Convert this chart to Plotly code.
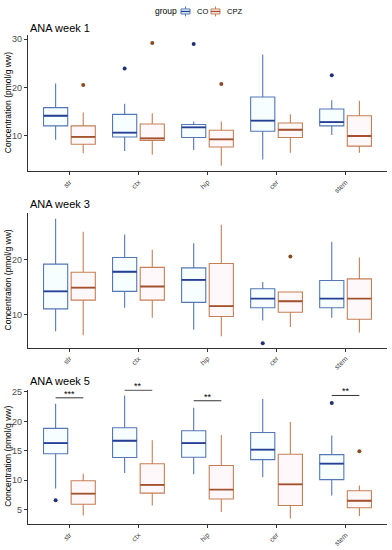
import plotly.graph_objects as go

categories = ["str", "ctx", "hip", "cer", "stem"]
groups = ["CO", "CPZ"]
panel_titles = ["ANA week 1", "ANA week 3", "ANA week 5"]

# week 1
w1_CO_low = [9.1, 6.8, 7.0, 5.0, 10.1]
w1_CO_q1 = [12.0, 9.7, 9.6, 10.9, 12.0]
w1_CO_med = [14.1, 10.6, 11.7, 13.1, 12.8]
w1_CO_q3 = [15.8, 14.4, 12.3, 18.0, 15.5]
w1_CO_high = [20.8, 16.6, 12.9, 26.8, 17.3]
w1_CO_out_cat = ["ctx", "hip", "stem"]
w1_CO_out_val = [23.9, 29.0, 22.5]
w1_CPZ_low = [6.3, 6.0, 3.7, 6.4, 6.4]
w1_CPZ_q1 = [8.2, 9.0, 7.6, 9.6, 7.8]
w1_CPZ_med = [9.7, 9.4, 9.2, 11.2, 9.9]
w1_CPZ_q3 = [12.0, 12.4, 11.1, 12.6, 14.1]
w1_CPZ_high = [14.8, 14.6, 12.9, 14.4, 17.2]
w1_CPZ_out_cat = ["str", "ctx", "hip"]
w1_CPZ_out_val = [20.5, 29.2, 20.7]

# week 3
w3_CO_low = [6.9, 11.2, 7.2, 8.9, 9.4]
w3_CO_q1 = [11.0, 14.2, 12.2, 11.2, 11.2]
w3_CO_med = [14.2, 17.8, 16.3, 12.9, 12.9]
w3_CO_q3 = [19.2, 20.4, 18.5, 14.7, 16.2]
w3_CO_high = [27.5, 24.6, 23.0, 15.9, 23.3]
w3_CO_out_cat = ["cer"]
w3_CO_out_val = [4.7]
w3_CPZ_low = [6.2, 9.4, 6.0, 7.7, 6.7]
w3_CPZ_q1 = [12.6, 12.6, 9.6, 10.4, 9.1]
w3_CPZ_med = [14.9, 15.1, 11.5, 12.4, 12.9]
w3_CPZ_q3 = [17.7, 18.6, 19.3, 14.1, 16.5]
w3_CPZ_high = [25.1, 21.8, 26.4, 14.1, 20.4]
w3_CPZ_out_cat = ["cer"]
w3_CPZ_out_val = [20.6]

# week 5
w5_CO_low = [8.6, 11.2, 11.0, 10.5, 7.4]
w5_CO_q1 = [14.5, 13.85, 13.9, 13.5, 10.1]
w5_CO_med = [16.3, 16.7, 16.3, 15.2, 12.8]
w5_CO_q3 = [18.8, 18.9, 18.4, 18.1, 14.35]
w5_CO_high = [23.0, 24.4, 22.3, 23.8, 17.6]
w5_CO_out_cat = ["str", "stem"]
w5_CO_out_val = [6.6, 23.1]
w5_CPZ_low = [4.0, 5.7, 4.6, 3.5, 3.9]
w5_CPZ_q1 = [5.9, 7.8, 6.8, 5.7, 5.3]
w5_CPZ_med = [7.7, 9.2, 8.4, 9.3, 6.5]
w5_CPZ_q3 = [9.9, 12.8, 12.5, 14.4, 8.2]
w5_CPZ_high = [11.1, 16.8, 17.7, 19.9, 9.1]
w5_CPZ_out_cat = ["stem"]
w5_CPZ_out_val = [14.9]

# significance (week 5)
sig_cat = ["str", "ctx", "hip", "stem"]
sig_y = [24.0, 25.3, 23.5, 24.4]
sig_text = ["***", "**", "**", "**"]

y_ranges = [[2.55, 30.9], [3.9, 28.5], [2.53, 25.4]]
y_ticks = [[10, 20, 30], [10, 20], [5, 10, 15, 20, 25]]

panels = [
    dict(CO=(w1_CO_low, w1_CO_q1, w1_CO_med, w1_CO_q3, w1_CO_high, w1_CO_out_cat, w1_CO_out_val),
         CPZ=(w1_CPZ_low, w1_CPZ_q1, w1_CPZ_med, w1_CPZ_q3, w1_CPZ_high, w1_CPZ_out_cat, w1_CPZ_out_val)),
    dict(CO=(w3_CO_low, w3_CO_q1, w3_CO_med, w3_CO_q3, w3_CO_high, w3_CO_out_cat, w3_CO_out_val),
         CPZ=(w3_CPZ_low, w3_CPZ_q1, w3_CPZ_med, w3_CPZ_q3, w3_CPZ_high, w3_CPZ_out_cat, w3_CPZ_out_val)),
    dict(CO=(w5_CO_low, w5_CO_q1, w5_CO_med, w5_CO_q3, w5_CO_high, w5_CO_out_cat, w5_CO_out_val),
         CPZ=(w5_CPZ_low, w5_CPZ_q1, w5_CPZ_med, w5_CPZ_q3, w5_CPZ_high, w5_CPZ_out_cat, w5_CPZ_out_val)),
]

W, H = 392, 550
DODGE = 0.2
BOXW = 0.35
line_col = {"CO": "#5577B5", "CPZ": "#C57F55"}
med_col = {"CO": "#243F93", "CPZ": "#A2512C"}
fill_col = {"CO": "rgba(225,252,255,0.3)", "CPZ": "rgba(255,232,240,0.3)"}
pt_col = {"CO": "#1F2F78", "CPZ": "#8A4A22"}
offset = {"CO": -DODGE, "CPZ": DODGE}
idx = {c: i for i, c in enumerate(categories)}

# pixel layout
x_left, x_right = 28, 387
panel_px = [(33, 170), (212, 347), (389, 524)]
title_px = [26, 203, 380]


def px_x(v):
    return v / W


def px_y(v):
    return 1 - v / H


fig = go.Figure()
FONT = "Liberation Sans, Arial, sans-serif"

for p, data in enumerate(panels):
    sfx = "" if p == 0 else str(p + 1)
    xa, ya = "x" + sfx, "y" + sfx
    for g in groups:
        low, q1, med, q3, high, ocat, oval = data[g]
        xs = [i + offset[g] for i in range(len(categories))]
        fig.add_trace(go.Box(
            x=xs, q1=q1, median=med, q3=q3, lowerfence=low, upperfence=high,
            width=BOXW, whiskerwidth=0, name=g, legendgroup=g, showlegend=False,
            line=dict(color=line_col[g], width=1.1), fillcolor=fill_col[g],
            xaxis=xa, yaxis=ya, hoverinfo="skip"))
        fig.add_trace(go.Box(
            x=xs, q1=med, median=med, q3=med, lowerfence=med, upperfence=med,
            width=BOXW, whiskerwidth=0, name=g, legendgroup=g, showlegend=False,
            line=dict(color=med_col[g], width=1.8), fillcolor="rgba(0,0,0,0)",
            xaxis=xa, yaxis=ya, hoverinfo="skip"))
        fig.add_trace(go.Scatter(
            x=[idx[c] + offset[g] for c in ocat], y=oval, mode="markers",
            marker=dict(color=pt_col[g], size=4), showlegend=False,
            xaxis=xa, yaxis=ya, hoverinfo="skip"))

    top, bot = panel_px[p]
    dom = [px_y(bot), px_y(top)]
    axis_common = dict(showline=True, linecolor="#333333", linewidth=1.2,
                       ticks="outside", ticklen=3, tickcolor="#333333",
                       showgrid=False, zeroline=False)
    fig.update_layout(**{
        ("xaxis" + sfx): dict(domain=[px_x(x_left), px_x(x_right)], range=[-0.6, 4.6],
                              tickvals=list(range(len(categories))), ticktext=categories,
                              tickangle=-45, tickfont=dict(size=7, color="#444444", family=FONT),
                              anchor=ya, **axis_common),
        ("yaxis" + sfx): dict(domain=dom, range=y_ranges[p], tickvals=y_ticks[p],
                              tickfont=dict(size=9, color="#4D4D4D", family=FONT),
                              anchor=xa, **axis_common),
    })
    fig.add_annotation(text=panel_titles[p], xref="paper", yref="paper",
                       x=px_x(x_left), y=px_y(title_px[p]), xanchor="left", yanchor="middle",
                       showarrow=False, font=dict(size=11, color="#000000", family=FONT))
    fig.add_annotation(text="Concentration (pmol/g ww)", xref="paper", yref="paper",
                       x=px_x(8), y=px_y((top + bot) / 2), xanchor="center", yanchor="middle",
                       textangle=-90, showarrow=False,
                       font=dict(size=8.5, color="#000000", family=FONT))

# significance bars on week 5
for c, yv, t in zip(sig_cat, sig_y, sig_text):
    i = idx[c]
    fig.add_shape(type="line", xref="x3", yref="y3", x0=i - DODGE, x1=i + DODGE, y0=yv, y1=yv,
                  line=dict(color="#333333", width=1))
    fig.add_annotation(text=t, xref="x3", yref="y3", x=i, y=yv, yanchor="bottom",
                       showarrow=False, yshift=-3, font=dict(size=9, color="#000000", family=FONT))

# compact ggplot-style legend (group: CO, CPZ)
fig.add_annotation(text="group", xref="paper", yref="paper", x=px_x(179), y=px_y(9.5),
                   xanchor="right", yanchor="middle", showarrow=False,
                   font=dict(size=8.5, color="#000000", family=FONT))
legend_icon_x = {"CO": 181, "CPZ": 211}
legend_text_x = {"CO": 195, "CPZ": 225}
for g in groups:
    x0 = legend_icon_x[g]
    xm = x0 + 4.5
    fig.add_shape(type="line", xref="paper", yref="paper", x0=px_x(xm), x1=px_x(xm),
                  y0=px_y(4.5), y1=px_y(14.5), line=dict(color=line_col[g], width=1))
    fig.add_shape(type="rect", xref="paper", yref="paper", x0=px_x(x0), x1=px_x(x0 + 9),
                  y0=px_y(7), y1=px_y(12), line=dict(color=line_col[g], width=1),
                  fillcolor="#EAFBFF" if g == "CO" else "#FFEFF3")
    fig.add_shape(type="line", xref="paper", yref="paper", x0=px_x(x0), x1=px_x(x0 + 9),
                  y0=px_y(9.5), y1=px_y(9.5), line=dict(color=med_col[g], width=1.3))
    fig.add_annotation(text=g, xref="paper", yref="paper", x=px_x(legend_text_x[g]), y=px_y(9.5),
                       xanchor="left", yanchor="middle", showarrow=False,
                       font=dict(size=7.5, color="#000000", family=FONT))

fig.update_layout(
    width=W, height=H, margin=dict(l=0, r=0, t=0, b=0),
    plot_bgcolor="white", paper_bgcolor="white", boxmode="overlay",
    font=dict(family=FONT), showlegend=False,
)

fig.write_html("out.html", config={"displayModeBar": False},
               post_script="document.body.style.margin='0';")
